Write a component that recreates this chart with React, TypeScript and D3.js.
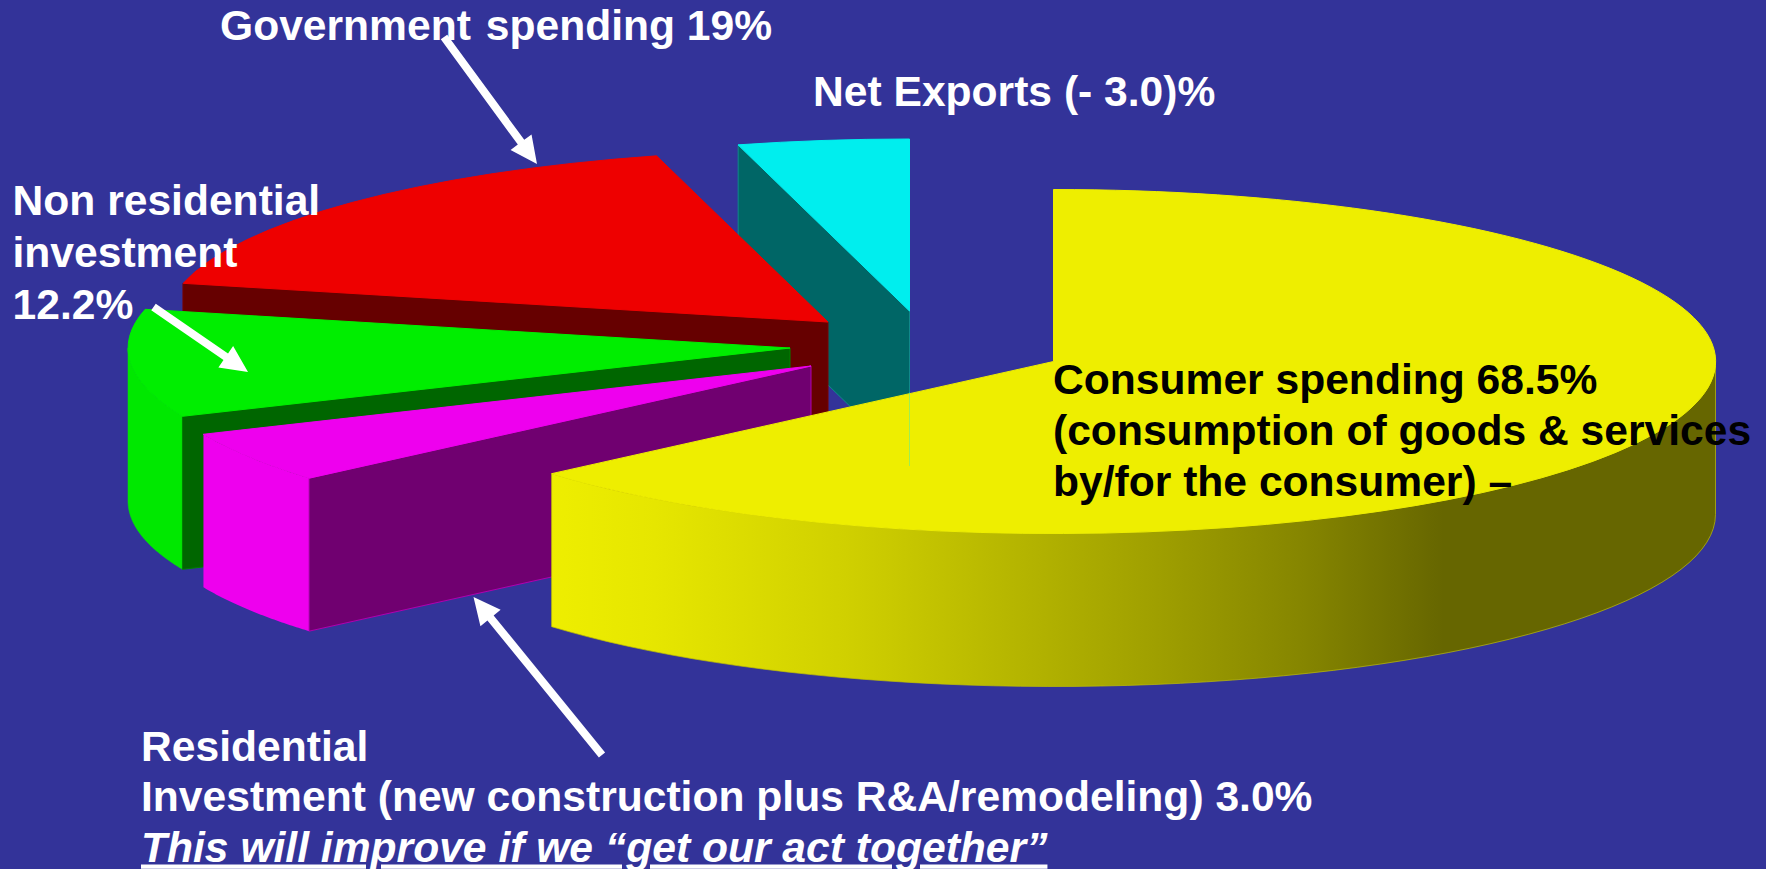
import React from "react";
import * as d3 from "d3";

// Values
const sliceNames = ["Consumer spending", "Residential investment", "Non residential investment", "Government spending", "Net exports"];
const labelledShares = [68.5, 3.0, 12.2, 19, -3.0];
// swept angle (degrees) that each slice occupies in the drawing
const sweepDegrees = [229.3, 17.3, 36.4, 62, 15];
const topColors = ["#eeee00", "#ee00ee", "#00ee00", "#ee0000", "#00eeee"];
const wallColors = ["#eeee00", "#700070", "#006600", "#660000", "#006666"];
// tip of each exploded wedge, same order
const apexX = [1053.5, 811, 790, 828, 909.5];
const apexY = [361.5, 366, 348, 322, 311];
const drawOrder = [4, 3, 2, 1, 0];

const yellowStopsX = [551, 655, 846, 999, 1152, 1305, 1443, 1715];
const yellowStopsColor = ["#eeee00", "#e6e600", "#d0d000", "#b8b800", "#a0a000", "#858500", "#666600", "#666600"];

const textLines = [
  { t: "Net Exports (- 3.0)%", x: 813, y: 106, c: "#fff" },
  { t: "Non residential", x: 12.5, y: 215, c: "#fff" },
  { t: "investment", x: 12.5, y: 267, c: "#fff" },
  { t: "12.2%", x: 12.5, y: 319, c: "#fff" },
  { t: "Consumer spending 68.5%", x: 1053, y: 394, c: "#000" },
  { t: "(consumption of goods & services", x: 1053, y: 444.5, c: "#000" },
  { t: "by/for the consumer) –", x: 1053, y: 495.5, c: "#000" },
  { t: "Residential", x: 141, y: 761, c: "#fff" },
  { t: "Investment (new construction plus R&A/remodeling) 3.0%", x: 141, y: 811, c: "#fff" },
];
const governmentWords = ["Government", "spending 19%"];
const noteLine = "This will improve if we “get our act together”";

const arrows = [
  { from: [444, 37], to: [537, 164] },
  { from: [153.5, 307], to: [248, 372] },
  { from: [602, 755], to: [473.5, 597] },
];

const RX = 662;
const RY = 172;
const DEPTH = 153;

const pieAngles = d3.pie<number>().sort(null).value((d) => d)(sweepDegrees);
const topArc = d3.arc<any>().innerRadius(0).outerRadius(1);
const line = d3.line<number[]>();
const gradScale = d3.scaleLinear<string>().domain(yellowStopsX).range(yellowStopsColor);

const rim = (i: number, a: number, z = 0): number[] => [
  apexX[i] + RX * Math.sin(a),
  apexY[i] - RY * Math.cos(a) + z,
];

// outer cylindrical wall between two angles
function outerWall(i: number, a0: number, a1: number) {
  const n = 60;
  const angles = d3.range(n + 1).map((k) => a0 + ((a1 - a0) * k) / n);
  const top = angles.map((a) => rim(i, a));
  const bottom = angles.map((a) => rim(i, a, DEPTH)).reverse();
  return line([...top, ...bottom]) + "Z";
}

// flat cut wall from the apex to the rim at angle a
function cutWall(i: number, a: number) {
  return line([
    [apexX[i], apexY[i]],
    rim(i, a),
    rim(i, a, DEPTH),
    [apexX[i], apexY[i] + DEPTH],
  ]) + "Z";
}

function arrowPath(from: number[], to: number[]) {
  const w = 4, hw = 13, hl = 27;
  const dx = to[0] - from[0], dy = to[1] - from[1];
  const L = Math.hypot(dx, dy);
  const ux = dx / L, uy = dy / L, px = -uy, py = ux;
  const bx = to[0] - ux * hl, by = to[1] - uy * hl;
  return line([
    [from[0] + px * w, from[1] + py * w],
    [bx + px * w, by + py * w],
    [bx + px * hw, by + py * hw],
    to,
    [bx - px * hw, by - py * hw],
    [bx - px * w, by - py * w],
    [from[0] - px * w, from[1] - py * w],
  ]) + "Z";
}

const FONT = "'Liberation Sans', Arial, sans-serif";

export default function App() {
  const [yellow, magenta, green, red, cyan] = pieAngles;
  const walls: Record<number, React.ReactNode> = {
    4: <path d={cutWall(4, cyan.startAngle)} fill={wallColors[4]} stroke="#11888a" strokeWidth={1} />,
    3: <path d={cutWall(3, red.startAngle)} fill={wallColors[3]} stroke="#7a0000" strokeWidth={1} />,
    2: (
      <g>
        <path d={outerWall(2, green.startAngle, Math.PI * 1.5)} fill="#00e800" stroke="#00e800" strokeWidth={0.5} />
        <path d={cutWall(2, green.startAngle)} fill={wallColors[2]} stroke="#008000" strokeWidth={1} />
      </g>
    ),
    1: (
      <g>
        <path d={outerWall(1, magenta.startAngle, magenta.endAngle)} fill="#ee00ee" />
        <path d={cutWall(1, magenta.startAngle)} fill={wallColors[1]} stroke="#b000b0" strokeWidth={1} />
      </g>
    ),
    0: <path d={outerWall(0, Math.PI / 2, yellow.endAngle)} fill="url(#yellowSide)" stroke="#c0c000" strokeWidth={0.7} />,
  };
  return (
    <svg
      width={1766}
      height={869}
      viewBox="0 0 1766 869"
      style={{ position: "fixed", left: 0, top: 0, display: "block" }}
    >
      <defs>
        <linearGradient id="yellowSide" gradientUnits="userSpaceOnUse" x1={551} x2={1715} y1={0} y2={0}>
          {yellowStopsX.map((x) => (
            <stop key={x} offset={(x - 551) / (1715 - 551)} stopColor={gradScale(x)} />
          ))}
        </linearGradient>
      </defs>
      <rect width={1766} height={869} fill="#333399" />
      {drawOrder.map((i) => (
        <g key={sliceNames[i]} data-share={labelledShares[i]}>
          {walls[i]}
          <path
            d={topArc(pieAngles[i]) as string}
            transform={`translate(${apexX[i]},${apexY[i]}) scale(${RX},${RY})`}
            fill={topColors[i]}
            stroke={topColors[i]}
            strokeWidth={1}
            vectorEffect="non-scaling-stroke"
          />
        </g>
      ))}
      <line x1={909.5} x2={909.5} y1={392} y2={466} stroke="#00eeee" strokeOpacity={0.35} strokeWidth={1} />
      <g fontFamily={FONT} fontWeight={700} fontSize={42.6}>
        <text x={220} y={40} fill="#fff">
          {governmentWords[0]}
          <tspan dx={3}> {governmentWords[1]}</tspan>
        </text>
        {textLines.map((l) => (
          <text key={l.t} x={l.x} y={l.y} fill={l.c}>{l.t}</text>
        ))}
        <text
          x={141}
          y={861.5}
          fill="#fff"
          fontStyle="italic"
          textDecoration="underline"
          style={{ textDecorationSkipInk: "none" } as React.CSSProperties}
        >
          {noteLine}
        </text>
      </g>
      {arrows.map((a, k) => (
        <path key={k} d={arrowPath(a.from, a.to)} fill="#fff" />
      ))}
    </svg>
  );
}
